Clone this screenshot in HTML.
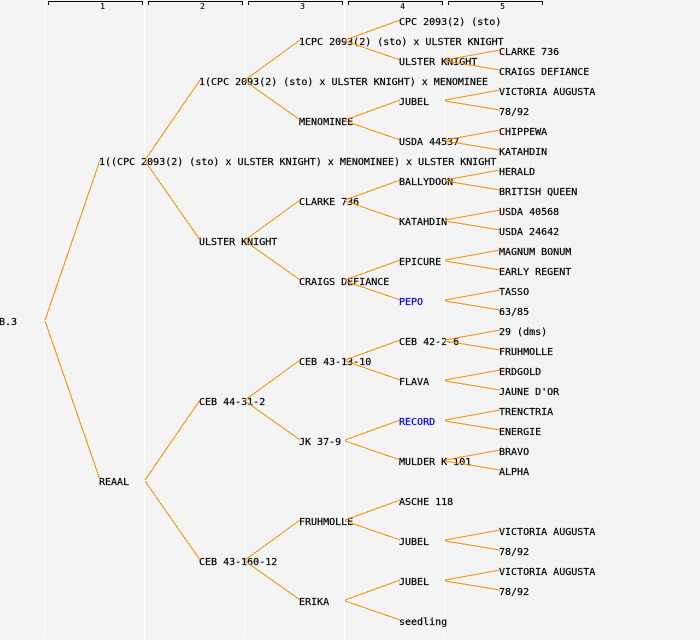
<!DOCTYPE html>
<html><head><meta charset="utf-8"><style>
html,body{margin:0;padding:0;background:#f4f4f4}
svg{display:block}
text{font-family:"DejaVu Sans Mono",monospace;font-size:10px;fill:#000;stroke:#000;stroke-width:.2px;white-space:pre}
.n{font-size:8px;text-anchor:middle;stroke-width:.1px}
.b{fill:#0000ff;stroke:#0000ff}
</style></head><body>
<svg width="700" height="640" viewBox="0 0 700 640" xmlns="http://www.w3.org/2000/svg">
<rect width="700" height="640" fill="#f4f4f4"/>
<path fill="none" stroke="#fff" shape-rendering="crispEdges" d="M44.5 0V638M144.5 0V638M244.5 0V638M344.5 0V638M444.5 0V638"/>
<path fill="none" stroke="#000" shape-rendering="crispEdges" d="M48.5 5V1.5H142.5V5M148.5 5V1.5H242.5V5M248.5 5V1.5H342.5V5M348.5 5V1.5H442.5V5M448.5 5V1.5H542.5V5"/>
<text class="n" x="102.5" y="9">1</text><text class="n" x="202.5" y="9">2</text><text class="n" x="302.5" y="9">3</text><text class="n" x="402.5" y="9">4</text><text class="n" x="502.5" y="9">5</text>
<g transform="translate(-1 -1)">
<text x="0" y="326">B.3</text>
<text x="100" y="166">1((CPC 2093(2) (sto) x ULSTER KNIGHT) x MENOMINEE) x ULSTER KNIGHT</text>
<text x="100" y="486">REAAL</text>
<text x="200" y="86">1(CPC 2093(2) (sto) x ULSTER KNIGHT) x MENOMINEE</text>
<text x="200" y="246">ULSTER KNIGHT</text>
<text x="200" y="406">CEB 44-31-2</text>
<text x="200" y="566">CEB 43-160-12</text>
<text x="300" y="46">1CPC 2093(2) (sto) x ULSTER KNIGHT</text>
<text x="300" y="126">MENOMINEE</text>
<text x="300" y="206">CLARKE 736</text>
<text x="300" y="286">CRAIGS DEFIANCE</text>
<text x="300" y="366">CEB 43-13-10</text>
<text x="300" y="446">JK 37-9</text>
<text x="300" y="526">FRUHMOLLE</text>
<text x="300" y="606">ERIKA</text>
<text x="400" y="26">CPC 2093(2) (sto)</text>
<text x="400" y="66">ULSTER KNIGHT</text>
<text x="400" y="106">JUBEL</text>
<text x="400" y="146">USDA 44537</text>
<text x="400" y="186">BALLYDOON</text>
<text x="400" y="226">KATAHDIN</text>
<text x="400" y="266">EPICURE</text>
<text x="400" y="306" class="b">PEPO</text>
<text x="400" y="346">CEB 42-2-6</text>
<text x="400" y="386">FLAVA</text>
<text x="400" y="426" class="b">RECORD</text>
<text x="400" y="466">MULDER K 101</text>
<text x="400" y="506">ASCHE 118</text>
<text x="400" y="546">JUBEL</text>
<text x="400" y="586">JUBEL</text>
<text x="400" y="626">seedling</text>
<text x="500" y="56">CLARKE 736</text>
<text x="500" y="76">CRAIGS DEFIANCE</text>
<text x="500" y="96">VICTORIA AUGUSTA</text>
<text x="500" y="116">78/92</text>
<text x="500" y="136">CHIPPEWA</text>
<text x="500" y="156">KATAHDIN</text>
<text x="500" y="176">HERALD</text>
<text x="500" y="196">BRITISH QUEEN</text>
<text x="500" y="216">USDA 40568</text>
<text x="500" y="236">USDA 24642</text>
<text x="500" y="256">MAGNUM BONUM</text>
<text x="500" y="276">EARLY REGENT</text>
<text x="500" y="296">TASSO</text>
<text x="500" y="316">63/85</text>
<text x="500" y="336">29 (dms)</text>
<text x="500" y="356">FRUHMOLLE</text>
<text x="500" y="376">ERDGOLD</text>
<text x="500" y="396">JAUNE D'OR</text>
<text x="500" y="416">TRENCTRIA</text>
<text x="500" y="436">ENERGIE</text>
<text x="500" y="456">BRAVO</text>
<text x="500" y="476">ALPHA</text>
<text x="500" y="536">VICTORIA AUGUSTA</text>
<text x="500" y="556">78/92</text>
<text x="500" y="576">VICTORIA AUGUSTA</text>
<text x="500" y="596">78/92</text>
</g>
<path fill="none" stroke="#ff8c00" stroke-width="1" shape-rendering="crispEdges" d="
M100 160L45 320M45 321L100 480
M200 80L145 160M145 161L200 240
M200 400L145 480M145 481L200 560
M300 40L245 80M245 81L300 120
M300 200L245 240M245 241L300 280
M300 360L245 400M245 401L300 440
M300 520L245 560M245 561L300 600
M400 20L345 40M345 41L400 60
M400 100L345 120M345 121L400 140
M400 180L345 200M345 201L400 220
M400 260L345 280M345 281L400 300
M400 340L345 360M345 361L400 380
M400 420L345 440M345 441L400 460
M400 500L345 520M345 521L400 540
M400 580L345 600M345 601L400 620
M500 50L445 60M445 61L500 70
M500 90L445 100M445 101L500 110
M500 130L445 140M445 141L500 150
M500 170L445 180M445 181L500 190
M500 210L445 220M445 221L500 230
M500 250L445 260M445 261L500 270
M500 290L445 300M445 301L500 310
M500 330L445 340M445 341L500 350
M500 370L445 380M445 381L500 390
M500 410L445 420M445 421L500 430
M500 450L445 460M445 461L500 470
M500 530L445 540M445 541L500 550
M500 570L445 580M445 581L500 590"/>
</svg>
</body></html>
